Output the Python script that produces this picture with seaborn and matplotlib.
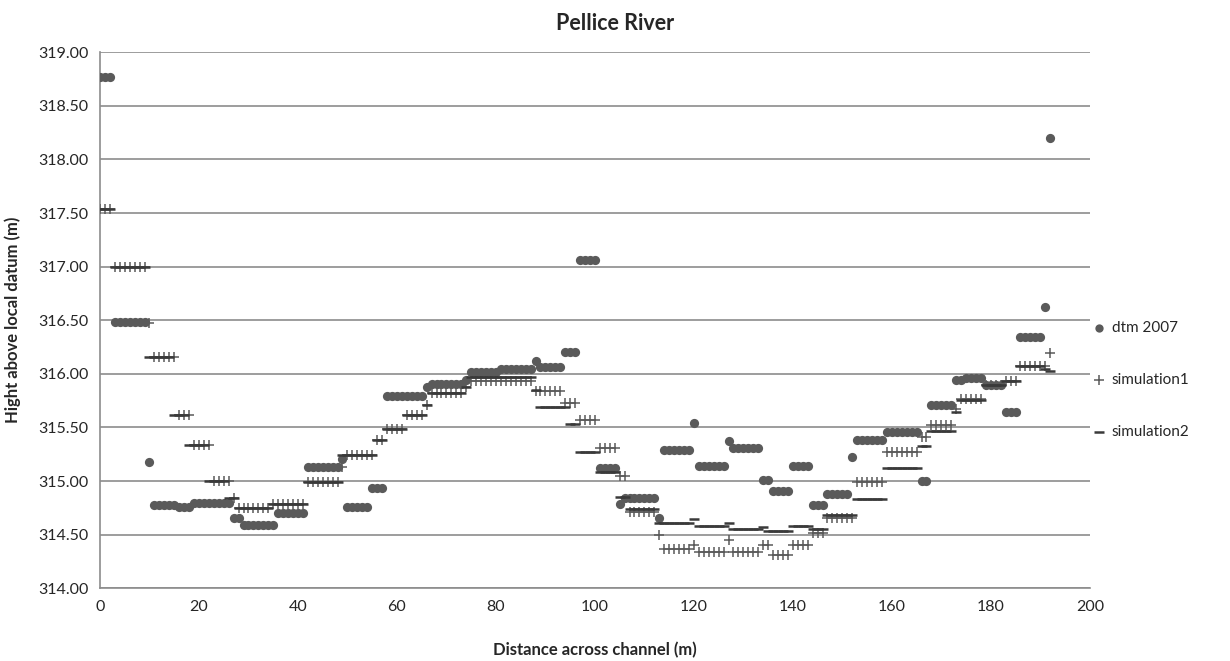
import numpy as np
import pandas as pd
import seaborn as sns
import matplotlib.pyplot as plt

# distance across channel (m), one reading per metre
distance = list(range(0, 193))

dtm_2007 = [
    318.77, 318.77, 318.77,
    316.48, 316.48, 316.48, 316.48, 316.48, 316.48, 316.48,
    315.18,
    314.78, 314.78, 314.78, 314.78, 314.78,
    314.76, 314.76, 314.76,
    314.80, 314.80, 314.80, 314.80, 314.80, 314.80, 314.80, 314.80,
    314.66, 314.66,
    314.59, 314.59, 314.59, 314.59, 314.59, 314.59, 314.59,
    314.70, 314.70, 314.70, 314.70, 314.70, 314.70,
    315.13, 315.13, 315.13, 315.13, 315.13, 315.13, 315.13,
    315.21,
    314.76, 314.76, 314.76, 314.76, 314.76,
    314.94, 314.94, 314.94,
    315.79, 315.79, 315.79, 315.79, 315.79, 315.79, 315.79, 315.79,
    315.88,
    315.91, 315.91, 315.91, 315.91, 315.91, 315.91, 315.91,
    315.94,
    316.02, 316.02, 316.02, 316.02, 316.02, 316.02,
    316.05, 316.05, 316.05, 316.05, 316.05, 316.05, 316.05,
    316.12,
    316.06, 316.06, 316.06, 316.06, 316.06,
    316.20, 316.20, 316.20,
    317.06, 317.06, 317.06, 317.06,
    315.12, 315.12, 315.12, 315.12,
    314.79,
    314.84, 314.84, 314.84, 314.84, 314.84, 314.84, 314.84,
    314.66,
    315.29, 315.29, 315.29, 315.29, 315.29, 315.29,
    315.54,
    315.14, 315.14, 315.14, 315.14, 315.14, 315.14,
    315.37,
    315.31, 315.31, 315.31, 315.31, 315.31, 315.31,
    315.01, 315.01,
    314.91, 314.91, 314.91, 314.91,
    315.14, 315.14, 315.14, 315.14,
    314.78, 314.78, 314.78,
    314.88, 314.88, 314.88, 314.88, 314.88,
    315.22,
    315.38, 315.38, 315.38, 315.38, 315.38, 315.38,
    315.46, 315.46, 315.46, 315.46, 315.46, 315.46, 315.46,
    315.00, 315.00,
    315.71, 315.71, 315.71, 315.71, 315.71,
    315.94, 315.94,
    315.96, 315.96, 315.96, 315.96,
    315.90, 315.90, 315.90, 315.90,
    315.64, 315.64, 315.64,
    316.34, 316.34, 316.34, 316.34, 316.34,
    316.62,
    318.20,
]

simulation1 = [
    317.54, 317.54, 317.54,
    317.00, 317.00, 317.00, 317.00, 317.00, 317.00, 317.00,
    316.47,
    316.16, 316.16, 316.16, 316.16, 316.16,
    315.62, 315.62, 315.62,
    315.34, 315.34, 315.34, 315.34,
    315.00, 315.00, 315.00, 315.00,
    314.84,
    314.75, 314.75, 314.75, 314.75, 314.75, 314.75, 314.75,
    314.79, 314.79, 314.79, 314.79, 314.79, 314.79, 314.79,
    314.99, 314.99, 314.99, 314.99, 314.99, 314.99, 314.99,
    315.13,
    315.24, 315.24, 315.24, 315.24, 315.24, 315.24,
    315.38, 315.38,
    315.49, 315.49, 315.49, 315.49,
    315.62, 315.62, 315.62, 315.62,
    315.71,
    315.82, 315.82, 315.82, 315.82, 315.82, 315.82, 315.82,
    315.88,
    315.93, 315.93, 315.93, 315.93, 315.93, 315.93, 315.93,
    315.93, 315.93, 315.93, 315.93, 315.93, 315.93,
    315.84, 315.84, 315.84, 315.84, 315.84, 315.84,
    315.73, 315.73, 315.73,
    315.57, 315.57, 315.57, 315.57,
    315.31, 315.31, 315.31, 315.31,
    315.05, 315.05,
    314.71, 314.71, 314.71, 314.71, 314.71, 314.71,
    314.50,
    314.37, 314.37, 314.37, 314.37, 314.37, 314.37,
    314.40,
    314.34, 314.34, 314.34, 314.34, 314.34, 314.34,
    314.45,
    314.34, 314.34, 314.34, 314.34, 314.34, 314.34,
    314.40, 314.40,
    314.31, 314.31, 314.31, 314.31,
    314.40, 314.40, 314.40, 314.40,
    314.52, 314.52, 314.52,
    314.66, 314.66, 314.66, 314.66, 314.66, 314.66,
    314.99, 314.99, 314.99, 314.99, 314.99, 314.99,
    315.27, 315.27, 315.27, 315.27, 315.27, 315.27, 315.27,
    315.41, 315.41,
    315.52, 315.52, 315.52, 315.52, 315.52,
    315.67,
    315.77, 315.77, 315.77, 315.77, 315.77,
    315.90, 315.90, 315.90, 315.90,
    315.93, 315.93, 315.93,
    316.07, 316.07, 316.07, 316.07, 316.07, 316.07,
    316.19,
]

simulation2 = [
    317.54, 317.54, 317.54,
    317.00, 317.00, 317.00, 317.00, 317.00, 317.00, 317.00,
    316.16,
    316.16, 316.16, 316.16, 316.16,
    315.62, 315.62, 315.62,
    315.34, 315.34, 315.34, 315.34,
    315.00, 315.00, 315.00, 315.00,
    314.84, 314.84,
    314.75, 314.75, 314.75, 314.75, 314.75, 314.75, 314.75,
    314.79, 314.79, 314.79, 314.79, 314.79, 314.79, 314.79,
    314.99, 314.99, 314.99, 314.99, 314.99, 314.99, 314.99,
    315.24, 315.24, 315.24, 315.24, 315.24, 315.24, 315.24,
    315.38, 315.38,
    315.49, 315.49, 315.49, 315.49,
    315.62, 315.62, 315.62, 315.62,
    315.71,
    315.82, 315.82, 315.82, 315.82, 315.82, 315.82, 315.82,
    315.88,
    315.97, 315.97, 315.97, 315.97, 315.97, 315.97,
    315.97, 315.97, 315.97, 315.97, 315.97, 315.97, 315.97,
    315.85,
    315.69, 315.69, 315.69, 315.69, 315.69, 315.69,
    315.53, 315.53,
    315.27, 315.27, 315.27, 315.27,
    315.08, 315.08, 315.08, 315.08,
    314.85, 314.85,
    314.74, 314.74, 314.74, 314.74, 314.74, 314.74,
    314.61, 314.61, 314.61, 314.61, 314.61, 314.61, 314.61,
    314.65,
    314.58, 314.58, 314.58, 314.58, 314.58, 314.58,
    314.61,
    314.55, 314.55, 314.55, 314.55, 314.55, 314.55,
    314.57, 314.53,
    314.53, 314.53, 314.53, 314.53,
    314.58, 314.58, 314.58, 314.58,
    314.55, 314.55, 314.55,
    314.68, 314.68, 314.68, 314.68, 314.68, 314.68,
    314.83, 314.83, 314.83, 314.83, 314.83, 314.83,
    315.12, 315.12, 315.12, 315.12, 315.12, 315.12, 315.12,
    315.33, 315.33,
    315.47, 315.47, 315.47, 315.47, 315.47,
    315.64,
    315.76, 315.76, 315.76, 315.76, 315.76,
    315.90, 315.90, 315.90, 315.90,
    315.93, 315.93, 315.93,
    316.07, 316.07, 316.07, 316.07, 316.07,
    316.05, 316.03,
]

y_ticks = [314.0, 314.5, 315.0, 315.5, 316.0, 316.5, 317.0, 317.5, 318.0, 318.5, 319.0]
x_ticks = [0, 20, 40, 60, 80, 100, 120, 140, 160, 180, 200]

df = pd.DataFrame({
    "distance": distance,
    "dtm 2007": dtm_2007,
    "simulation1": simulation1,
    "simulation2": simulation2,
})

sns.set_style("white")
plt.rcParams["font.family"] = ["Lato", "DejaVu Sans"]

fig, ax = plt.subplots(figsize=(12.3, 6.61), dpi=100)
fig.subplots_adjust(left=0.0813, right=0.886, top=0.921, bottom=0.110)

grey = "#5a5a5a"
sns.scatterplot(data=df, x="distance", y="dtm 2007", marker="o", s=44,
                color=grey, edgecolor=grey, linewidth=0, label="dtm 2007", ax=ax, zorder=3)
sns.scatterplot(data=df, x="distance", y="simulation1", marker="+", s=55,
                color=grey, linewidth=1.1, label="simulation1", ax=ax, zorder=4)
sns.scatterplot(data=df, x="distance", y="simulation2", marker="_", s=55,
                color="#3a3a3a", linewidth=1.8, label="simulation2", ax=ax, zorder=4)

ax.set_xlim(0, 200)
ax.set_ylim(314, 319)
ax.set_xticks(x_ticks)
ax.set_yticks(y_ticks)
ax.set_yticklabels([f"{v:.2f}" for v in y_ticks])
ax.yaxis.grid(True, color="#8c8c8c", linewidth=1.2)
ax.set_axisbelow(True)
for side in ["top", "right"]:
    ax.spines[side].set_visible(False)
for side in ["left", "bottom"]:
    ax.spines[side].set_color("#8c8c8c")
    ax.spines[side].set_linewidth(1.2)
ax.tick_params(axis="both", which="major", direction="out", length=5,
               color="#8c8c8c", labelsize=11.5, labelcolor="#262626")

fig.suptitle("Pellice River", x=0.5, y=0.98, va="top", fontsize=15.5,
             fontweight="bold", color="#262626")
ax.set_xlabel("Distance across channel (m)", fontsize=12, fontweight="bold",
              color="#262626", labelpad=20)
ax.set_ylabel("Hight above local datum (m)", fontsize=12, fontweight="bold",
              color="#262626", labelpad=12)

ax.legend(loc="center left", bbox_to_anchor=(1.0, 0.388), frameon=False,
          fontsize=11, labelspacing=2.5, handletextpad=0.35, handlelength=1.0,
          borderpad=0, borderaxespad=0.1, markerscale=0.9)

plt.savefig("out.png", dpi=100)
